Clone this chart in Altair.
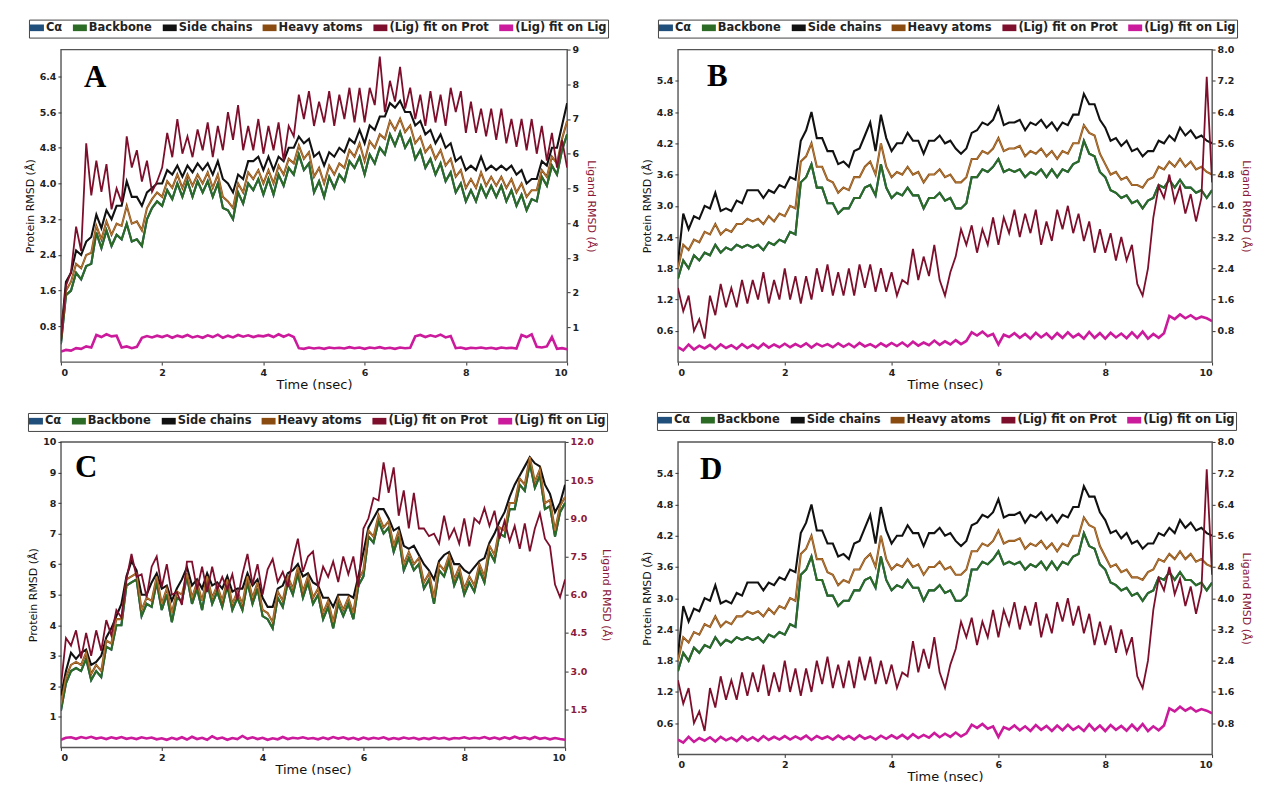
import altair as alt
import pandas as pd

SERIES = ["Cα", "Backbone", "Side chains", "Heavy atoms", "(Lig) fit on Prot", "(Lig) fit on Lig"]
COLORS = ["#1f4f7a", "#2b6b26", "#111111", "#8a4b10", "#7d0f2c", "#cc1a9c"]
X_TICKS = [0, 2, 4, 6, 8, 10]

# ---------------- Panel A ----------------
A_BACK = [0.4,1.5,1.6,2.0,1.85,2.15,2.2,2.9,2.55,2.95,
          2.6,2.85,2.75,3.1,2.7,2.75,2.6,3.2,3.45,3.6,
          3.5,3.85,3.65,4.0,3.7,4.05,3.7,4.05,3.8,4.05,
          3.7,4.0,3.45,3.4,3.2,3.8,3.55,4.0,3.85,4.1,
          3.75,4.1,3.75,4.2,3.95,4.35,4.2,4.65,4.3,4.45,
          3.8,4.05,3.7,4.15,3.9,4.2,4.05,4.5,4.35,4.6,
          4.2,4.65,4.45,4.8,4.65,5.1,4.85,5.15,4.8,5.0,
          4.55,4.75,4.35,4.55,4.2,4.45,4.05,4.25,3.8,4.0,
          3.6,3.85,3.6,3.95,3.7,3.95,3.7,3.95,3.6,3.85,
          3.5,3.75,3.4,3.65,3.6,4.15,3.95,4.4,4.2,4.75,
          5.1]
A_CA = A_BACK
A_SIDE = [0.6,1.8,2.0,2.5,2.4,2.7,2.8,3.3,3.0,3.4,
          3.2,3.5,3.5,4.05,3.7,3.7,3.5,3.8,3.9,4.0,
          4.0,4.3,4.2,4.4,4.15,4.4,4.25,4.45,4.3,4.45,
          4.2,4.5,4.1,4.0,3.8,4.2,4.1,4.5,4.5,4.6,
          4.3,4.6,4.3,4.6,4.5,4.8,4.8,5.05,4.9,5.0,
          4.6,4.7,4.4,4.7,4.6,4.8,4.7,5.0,4.9,5.2,
          4.9,5.3,5.2,5.5,5.5,5.8,5.7,5.85,5.6,5.6,
          5.3,5.4,5.1,5.2,4.9,5.1,4.8,4.9,4.5,4.6,
          4.3,4.4,4.3,4.6,4.3,4.4,4.3,4.4,4.3,4.4,
          4.2,4.3,4.0,4.1,4.1,4.5,4.4,4.8,4.8,5.3,
          5.8]
A_HEAVY = [0.5,1.6,1.8,2.2,2.1,2.4,2.45,3.05,2.75,3.15,
           2.85,3.1,3.05,3.5,3.1,3.15,2.95,3.45,3.65,3.8,
           3.7,4.05,3.9,4.2,3.9,4.2,3.95,4.2,4.0,4.25,
           3.9,4.2,3.7,3.6,3.45,4.0,3.8,4.25,4.1,4.3,
           4.0,4.3,4.0,4.4,4.2,4.55,4.45,4.85,4.55,4.7,
           4.15,4.35,4.0,4.4,4.2,4.45,4.35,4.75,4.6,4.9,
           4.5,4.95,4.8,5.1,5.0,5.4,5.2,5.45,5.15,5.3,
           4.9,5.05,4.7,4.85,4.55,4.75,4.4,4.55,4.15,4.3,
           3.9,4.1,3.9,4.25,3.95,4.15,3.95,4.15,3.9,4.1,
           3.8,4.0,3.7,3.85,3.85,4.3,4.15,4.6,4.45,5.0,
           5.4]
A_LIGPROT = [0.6,2.2,2.6,3.9,3.2,6.3,4.8,5.8,4.9,5.7,
             4.4,5.0,4.6,6.5,5.6,6.1,5.2,5.8,4.9,5.2,
             5.6,6.6,5.9,7.0,6.0,6.5,5.9,6.7,6.1,6.9,
             5.9,6.8,6.1,7.2,6.4,7.4,6.1,6.8,6.1,7.0,
             6.0,6.8,6.1,6.9,5.8,6.8,6.5,7.7,7.0,7.8,
             6.8,7.5,6.9,7.8,6.8,7.7,7.0,7.9,6.9,7.9,
             6.9,7.9,7.4,8.8,7.2,8.1,7.5,8.5,7.3,7.9,
             7.0,7.7,6.8,7.8,6.9,7.7,6.8,7.9,7.2,7.8,
             6.6,7.5,6.6,7.3,6.5,7.3,6.4,7.3,6.3,7.0,
             6.2,7.0,6.1,7.0,6.0,6.8,5.8,6.6,5.6,6.4,
             5.6]
A_LIGLIG = [0.3,0.35,0.33,0.4,0.38,0.45,0.42,0.78,0.72,0.8,
            0.74,0.76,0.42,0.45,0.4,0.44,0.7,0.75,0.71,0.76,
            0.72,0.77,0.7,0.76,0.72,0.78,0.71,0.75,0.7,0.77,
            0.72,0.79,0.7,0.76,0.71,0.78,0.73,0.77,0.72,0.76,
            0.74,0.78,0.72,0.8,0.73,0.79,0.72,0.4,0.38,0.42,
            0.39,0.41,0.38,0.42,0.4,0.41,0.39,0.43,0.4,0.42,
            0.38,0.42,0.4,0.43,0.39,0.41,0.38,0.42,0.4,0.41,
            0.74,0.78,0.72,0.77,0.73,0.79,0.71,0.75,0.4,0.42,
            0.38,0.41,0.4,0.42,0.39,0.41,0.38,0.42,0.4,0.41,
            0.39,0.78,0.72,0.8,0.44,0.42,0.45,0.72,0.38,0.4,
            0.37]

# ---------------- Panel B (and D, identical) ----------------
B_BACK = [1.6,1.95,1.8,2.05,1.95,2.1,2.05,2.25,2.1,2.2,
          2.15,2.25,2.2,2.25,2.2,2.25,2.15,2.3,2.25,2.35,
          2.3,2.5,2.45,3.45,3.55,3.8,3.35,3.35,3.05,3.05,
          2.85,2.95,2.95,3.15,3.15,3.35,3.4,3.2,3.8,3.35,
          3.15,3.25,3.2,3.35,3.2,3.2,2.95,3.15,3.15,3.25,
          3.1,3.15,2.95,2.95,3.05,3.55,3.55,3.7,3.65,3.75,
          3.9,3.65,3.7,3.65,3.7,3.55,3.65,3.6,3.7,3.55,
          3.7,3.55,3.7,3.65,3.8,3.85,4.25,4.0,3.95,3.65,
          3.55,3.3,3.25,3.15,3.2,3.05,3.1,2.95,3.1,3.15,
          3.4,3.35,3.5,3.35,3.5,3.35,3.35,3.25,3.3,3.15,
          3.3]
B_CA = B_BACK
B_SIDE = [1.9,2.85,2.55,2.8,2.75,3.0,2.95,3.25,2.9,2.95,
          2.9,3.1,3.05,3.3,3.3,3.3,3.15,3.3,3.25,3.4,
          3.35,3.55,3.5,4.25,4.45,4.8,4.3,4.3,4.05,4.05,
          3.8,3.85,3.75,4.05,4.1,4.35,4.6,4.05,4.75,4.3,
          4.05,4.2,4.2,4.4,4.25,4.25,4.0,4.25,4.25,4.35,
          4.2,4.25,4.1,4.0,4.1,4.4,4.45,4.6,4.55,4.65,
          4.9,4.55,4.6,4.6,4.65,4.45,4.6,4.55,4.65,4.5,
          4.6,4.45,4.6,4.55,4.75,4.75,5.15,4.95,4.95,4.65,
          4.5,4.25,4.3,4.15,4.25,4.05,4.1,3.95,4.05,4.05,
          4.25,4.2,4.35,4.25,4.5,4.35,4.45,4.3,4.35,4.25,
          4.2]
B_HEAVY = [1.8,2.25,2.15,2.35,2.3,2.5,2.45,2.65,2.45,2.55,
           2.5,2.65,2.65,2.75,2.7,2.75,2.65,2.8,2.7,2.85,
           2.8,3.0,2.95,3.85,3.95,4.2,3.75,3.75,3.5,3.45,
           3.25,3.35,3.3,3.55,3.55,3.75,3.85,3.6,4.2,3.75,
           3.55,3.65,3.6,3.75,3.6,3.65,3.45,3.6,3.6,3.7,
           3.55,3.6,3.45,3.45,3.55,3.9,3.9,4.05,4.0,4.1,
           4.3,4.05,4.1,4.1,4.15,3.95,4.05,4.0,4.1,3.95,
           4.05,3.9,4.05,4.0,4.2,4.2,4.55,4.4,4.35,4.0,
           3.8,3.6,3.65,3.5,3.55,3.4,3.4,3.35,3.5,3.55,
           3.75,3.7,3.85,3.75,3.9,3.75,3.85,3.7,3.75,3.65,
           3.6]
B_LIGPROT = [1.9,1.3,1.7,0.8,1.1,0.6,1.7,1.2,2.0,1.4,
             1.9,1.4,2.1,1.5,2.1,1.6,2.3,1.5,2.1,1.6,
             2.4,1.6,2.2,1.5,2.2,1.6,2.4,1.8,2.5,1.7,
             2.3,1.7,2.4,1.7,2.5,1.9,2.5,1.8,2.4,1.8,
             2.3,1.7,2.1,2.0,2.9,2.1,2.7,2.2,3.0,2.1,
             1.7,2.3,2.7,3.4,3.0,3.5,2.8,3.4,3.0,3.7,
             3.0,3.7,3.3,3.9,3.2,3.8,3.3,3.9,3.0,3.6,
             3.1,3.9,3.4,4.0,3.3,3.8,3.1,3.6,2.8,3.4,
             2.8,3.3,2.6,3.2,2.6,3.0,2.0,1.7,2.4,3.7,
             4.5,4.2,4.8,4.1,4.5,3.8,4.3,3.6,4.2,7.3,
             4.6]
B_LIGLIG = [0.38,0.3,0.45,0.32,0.42,0.35,0.44,0.33,0.45,0.36,
            0.43,0.34,0.46,0.36,0.44,0.35,0.47,0.37,0.45,0.38,
            0.47,0.38,0.46,0.39,0.48,0.37,0.47,0.4,0.46,0.38,
            0.48,0.39,0.47,0.38,0.49,0.4,0.46,0.38,0.48,0.4,
            0.49,0.41,0.5,0.4,0.52,0.42,0.5,0.43,0.55,0.44,
            0.53,0.45,0.56,0.46,0.54,0.76,0.68,0.78,0.66,0.72,
            0.45,0.7,0.64,0.74,0.62,0.72,0.6,0.75,0.63,0.73,
            0.6,0.74,0.62,0.76,0.63,0.72,0.6,0.77,0.62,0.74,
            0.6,0.75,0.63,0.73,0.61,0.76,0.62,0.78,0.6,0.72,
            0.62,0.74,1.18,1.1,1.22,1.12,1.2,1.1,1.16,1.12,
            1.05]

# ---------------- Panel C ----------------
C_BACK = [1.2,2.1,2.5,2.6,2.5,2.9,2.2,2.5,2.3,3.3,
          3.2,4.0,4.0,5.3,5.4,5.5,4.3,4.7,4.6,5.4,
          4.5,5.0,4.1,4.9,4.8,5.6,4.7,5.2,4.5,5.4,
          4.7,5.1,4.6,5.3,4.5,4.9,4.5,5.4,4.7,5.2,
          4.3,4.2,3.9,4.9,4.6,5.4,5.0,5.7,4.9,5.4,
          4.7,5.0,4.2,4.6,3.9,4.7,4.3,4.7,4.2,5.3,
          5.6,6.9,6.7,7.4,7.0,7.2,6.4,6.9,5.8,6.2,
          5.8,6.0,5.2,5.5,4.7,5.8,5.6,6.1,5.3,5.7,
          5.0,5.4,5.1,5.8,5.4,6.4,6.1,7.0,6.9,7.8,
          7.8,8.6,8.4,9.3,8.5,8.9,7.8,7.9,6.9,7.7,
          8.0]
C_CA = C_BACK
C_HEAVY = [1.4,2.3,2.7,2.8,2.7,3.1,2.4,2.7,2.5,3.5,
           3.4,4.2,4.2,5.5,5.6,5.7,4.5,4.9,4.8,5.6,
           4.7,5.2,4.4,5.1,5.0,5.7,4.9,5.4,4.8,5.6,
           4.9,5.3,4.8,5.5,4.7,5.1,4.7,5.6,4.9,5.4,
           4.5,4.4,4.1,5.1,4.8,5.6,5.2,5.9,5.1,5.6,
           4.9,5.2,4.4,4.8,4.1,4.9,4.5,4.9,4.4,5.5,
           5.8,7.1,6.9,7.6,7.2,7.4,6.6,7.1,6.0,6.4,
           6.0,6.2,5.4,5.7,4.9,6.0,5.8,6.3,5.5,5.9,
           5.2,5.6,5.3,6.0,5.6,6.6,6.3,7.2,7.1,8.0,
           8.0,8.8,8.6,9.5,8.7,9.1,8.0,8.1,7.1,7.9,
           8.2]
C_SIDE = [1.7,2.5,3.1,2.9,3.1,3.2,2.7,2.8,3.0,3.6,
          3.9,4.3,4.7,5.6,6.1,5.8,5.0,5.0,5.4,5.7,
          5.2,5.3,4.8,5.2,5.5,5.9,5.3,5.5,5.2,5.7,
          5.3,5.4,5.2,5.6,5.1,5.2,5.2,5.7,5.3,5.5,
          4.9,4.6,4.6,5.2,5.3,5.7,5.8,6.0,5.6,5.7,
          5.4,5.3,4.9,4.9,4.6,5.0,5.0,5.0,4.9,5.6,
          6.4,7.2,7.5,7.8,7.8,7.5,7.1,7.2,6.6,6.5,
          6.6,6.3,6.0,5.8,5.5,6.1,6.3,6.4,6.0,6.0,
          5.8,5.7,5.9,6.1,6.2,6.7,7.0,7.4,7.7,8.2,
          8.6,8.9,9.2,9.5,9.3,9.2,8.6,8.3,7.7,8.0,
          8.6]
C_LIGPROT = [2.4,4.3,4.0,4.6,3.5,4.5,3.6,4.6,3.8,5.0,
             4.4,5.4,5.1,6.6,7.6,6.7,6.8,5.9,7.1,7.5,
             6.3,7.2,6.0,6.1,5.6,7.3,7.3,6.2,7.1,6.1,
             7.1,6.2,6.7,6.2,6.8,5.8,6.8,7.6,6.4,7.2,
             6.0,7.0,7.4,6.5,6.9,6.3,7.4,8.2,6.9,7.5,
             7.7,6.3,7.1,6.7,7.3,6.5,7.5,6.8,7.5,6.3,
             8.6,9.0,9.8,9.7,11.2,10.0,11.0,9.1,10.1,8.6,
             10.0,8.6,8.6,8.3,8.4,8.0,9.1,8.2,8.6,8.0,
             9.0,7.9,9.0,8.8,9.4,8.7,9.3,8.2,8.9,8.1,
             8.7,7.8,8.8,7.7,8.6,9.2,8.2,7.9,6.4,5.9,
             6.6]
C_LIGLIG = [0.3,0.38,0.4,0.34,0.41,0.36,0.42,0.35,0.39,0.33,
            0.4,0.35,0.41,0.34,0.38,0.33,0.4,0.35,0.39,0.32,
            0.36,0.3,0.38,0.32,0.4,0.31,0.42,0.33,0.38,0.3,
            0.44,0.34,0.39,0.3,0.37,0.33,0.45,0.34,0.4,0.33,
            0.38,0.3,0.36,0.32,0.41,0.33,0.38,0.35,0.4,0.34,
            0.37,0.32,0.39,0.33,0.41,0.35,0.4,0.33,0.38,0.31,
            0.39,0.33,0.38,0.34,0.4,0.32,0.37,0.33,0.39,0.34,
            0.38,0.32,0.37,0.33,0.39,0.34,0.38,0.32,0.37,0.35,
            0.4,0.34,0.38,0.35,0.41,0.34,0.39,0.33,0.4,0.34,
            0.42,0.35,0.39,0.33,0.41,0.34,0.38,0.32,0.37,0.33,
            0.3]

# axis ticks
A_LEFT_TICKS = [0.8, 1.6, 2.4, 3.2, 4.0, 4.8, 5.6, 6.4]
A_RIGHT_TICKS = [1, 2, 3, 4, 5, 6, 7, 8, 9]
B_LEFT_TICKS = [0.6, 1.2, 1.8, 2.4, 3.0, 3.6, 4.2, 4.8, 5.4]
B_RIGHT_TICKS = [0.8, 1.6, 2.4, 3.2, 4.0, 4.8, 5.6, 6.4, 7.2, 8.0]
C_LEFT_TICKS = [1, 2, 3, 4, 5, 6, 7, 8, 9, 10]
C_RIGHT_TICKS = [1.5, 3.0, 4.5, 6.0, 7.5, 9.0, 10.5, 12.0]

FONT = "DejaVu Sans"
MAROON_TXT = "#8b1a3a"


def long_df(pairs):
    rows = []
    for name, vals in pairs:
        n = len(vals)
        for i, v in enumerate(vals):
            rows.append({"time": i * 10.0 / (n - 1), "rmsd": v, "series": name})
    return pd.DataFrame(rows)


def panel(letter, ca, bb, sc, ha, lp, ll, ldom, lticks, lfmt, rdom, rticks, rfmt,
          rlabcolor, w, h, lx, ly, gx, gy):
    prot = long_df([("Cα", ca), ("Backbone", bb), ("Side chains", sc), ("Heavy atoms", ha)])
    core = long_df([("core", ha)])
    ligp = long_df([("(Lig) fit on Prot", lp)])
    ligl = long_df([("(Lig) fit on Lig", ll)])
    color = alt.Color(
        "series:N",
        scale=alt.Scale(domain=SERIES, range=COLORS),
        legend=alt.Legend(
            title=None, orient="none", legendX=gx, legendY=gy, direction="horizontal",
            columns=6, symbolType="M-1,-0.3H1V0.3H-1Z", symbolStrokeWidth=3.5, symbolSize=110,
            labelFont=FONT, labelFontSize=11.5, labelFontWeight="bold", labelColor="#222",
            columnPadding=4, labelOffset=2, strokeColor="#444", padding=1, labelLimit=0,
            rowPadding=0, offset=0,
        ),
    )
    x = alt.X("time:Q", scale=alt.Scale(domain=[0, 10], nice=False),
              axis=alt.Axis(values=X_TICKS, format="d", title="Time (nsec)"))
    yl = alt.Y("rmsd:Q", scale=alt.Scale(domain=ldom, nice=False, zero=False),
               axis=alt.Axis(values=lticks, format=lfmt, title="Protein RMSD (Å)", orient="left"))
    yc = alt.Y("rmsd:Q", scale=alt.Scale(domain=ldom, nice=False, zero=False), axis=None)
    yr = alt.Y("rmsd:Q", scale=alt.Scale(domain=rdom, nice=False, zero=False),
               axis=alt.Axis(values=rticks, format=rfmt, title="Ligand RMSD (Å)", orient="right",
                             titleColor=MAROON_TXT, labelColor=rlabcolor, titlePadding=7))
    yr2 = alt.Y("rmsd:Q", scale=alt.Scale(domain=rdom, nice=False, zero=False), axis=None)
    p = alt.Chart(prot).mark_line(strokeWidth=2.1, clip=True).encode(x=x, y=yl, color=color)
    c = alt.Chart(core).mark_line(strokeWidth=0.5, color="#e0b06a", clip=True).encode(x=x, y=yc)
    lp_ = alt.Chart(ligp).mark_line(strokeWidth=1.8, clip=True).encode(x=x, y=yr, color=color)
    ll_ = alt.Chart(ligl).mark_line(strokeWidth=2.6, clip=True).encode(x=x, y=yr2, color=color)
    t = alt.Chart(pd.DataFrame({"lab": [letter]})).mark_text(
        font="Liberation Serif", fontWeight="bold", fontSize=31, align="left",
        baseline="alphabetic", color="black",
    ).encode(x=alt.value(lx), y=alt.value(ly), text="lab:N")
    return alt.layer(p, c, lp_, ll_, t).resolve_scale(y="independent").properties(width=w, height=h)


pA = panel("A", A_CA, A_BACK, A_SIDE, A_HEAVY, A_LIGPROT, A_LIGLIG,
           [0, 7.0], A_LEFT_TICKS, ".1f", [0, 9], A_RIGHT_TICKS, "d", "#222",
           507, 313, 23, 37, -32, -30)
pB = panel("B", B_CA, B_BACK, B_SIDE, B_HEAVY, B_LIGPROT, B_LIGLIG,
           [0, 6.0], B_LEFT_TICKS, ".1f", [0, 8], B_RIGHT_TICKS, ".1f", "#222",
           535, 313, 29, 36, -20, -30)
pC = panel("C", C_CA, C_BACK, C_SIDE, C_HEAVY, C_LIGPROT, C_LIGLIG,
           [0, 10], C_LEFT_TICKS, "d", [0, 12], C_RIGHT_TICKS, ".1f", MAROON_TXT,
           505, 306, 14, 35, -33, -29)
pD = panel("D", B_CA, B_BACK, B_SIDE, B_HEAVY, B_LIGPROT, B_LIGLIG,
           [0, 6.0], B_LEFT_TICKS, ".1f", [0, 8], B_RIGHT_TICKS, ".1f", "#222",
           535, 313, 22, 37, -21, -30)

chart = (
    alt.concat(pA, pB, pC, pD, columns=2, spacing={"row": 80, "column": 111}, bounds="flush")
    .resolve_scale(color="independent")
    .properties(padding={"left": 15, "top": 9, "right": 5, "bottom": 5})
    .configure_view(stroke="#555555", strokeWidth=1.4)
    .configure_axis(
        labelFont=FONT, titleFont=FONT, labelFontSize=9.5, labelFontWeight="bold",
        labelColor="#222", titleFontSize=11, titleFontWeight="normal", titleColor="#111",
        domain=False, grid=False, tickSize=3, tickColor="#333", labelPadding=2, titlePadding=4,
    )
    .configure_axisX(titleFontSize=13, labelFontSize=9.5, titlePadding=2)
)

chart.save("out.html", embed_options={"renderer": "svg", "actions": False})
